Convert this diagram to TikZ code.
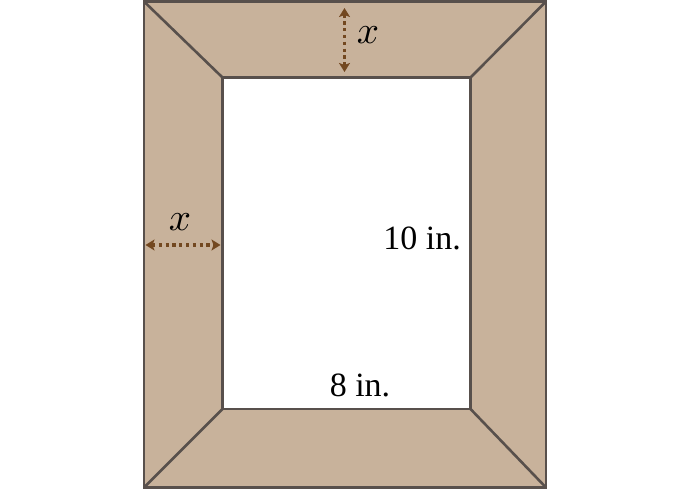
\documentclass[tikz,border=0pt]{standalone}
\usepackage{fontspec}
\setmainfont{Liberation Serif}
\newfontfamily\tms{Liberation Serif}
\usetikzlibrary{arrows.meta}
\definecolor{frame}{RGB}{200,178,155}
\definecolor{edge}{RGB}{88,80,76}
\definecolor{arr}{RGB}{115,72,32}
\tikzset{
  edgeline/.style={draw=edge, line width=2.6pt, line join=miter},
  dimarrow/.style={arr, line width=3.2pt, dash pattern=on 3.2pt off 3.6pt, {Stealth[length=9pt,width=11pt,inset=2pt]}-{Stealth[length=9pt,width=11pt,inset=2pt]}},
  lbl/.style={inner sep=0pt, font=\tms\fontsize{34}{38}\selectfont},
  xlbl/.style={inner sep=0pt, scale=3.9}
}
\begin{document}
\begin{tikzpicture}[x=1pt,y=1pt]
\useasboundingbox (0,0) rectangle (691,490);
\coordinate (O1) at (144,488.5);
\coordinate (O2) at (546,488.5);
\coordinate (O3) at (546,2.5);
\coordinate (O4) at (144,2.5);
\coordinate (I1) at (222.5,412.5);
\coordinate (I2) at (470.5,412.5);
\coordinate (I3) at (470.5,81);
\coordinate (I4) at (222.5,81);
\fill[frame] (O1) -- (O2) -- (O3) -- (O4) -- cycle;
\fill[white] (I1) -- (I2) -- (I3) -- (I4) -- cycle;
\draw[edgeline] (O1) -- (I1);
\draw[edgeline] (O2) -- (I2);
\draw[edgeline] (O3) -- (I3);
\draw[edgeline] (O4) -- (I4);
\draw[edgeline] (I1) -- (I2) -- (I3) -- (I4) -- cycle;
\draw[edgeline] (O1) -- (O2) -- (O3) -- (O4) -- cycle;
\coordinate (va) at (344.5,482);
\coordinate (vb) at (344.5,418);
\draw[dimarrow] (va) -- (vb);
\coordinate (ha) at (145.5,245);
\coordinate (hb) at (220.5,245);
\draw[dimarrow] (ha) -- (hb);
\node[xlbl] (xt) at (368,455) {$x$};
\node[xlbl] (xl) at (180,268) {$x$};
\node[lbl, anchor=east] (ten) at (461,252) {10 in.};
\node[lbl] (eight) at (360,105) {8 in.};
\end{tikzpicture}
\end{document}
